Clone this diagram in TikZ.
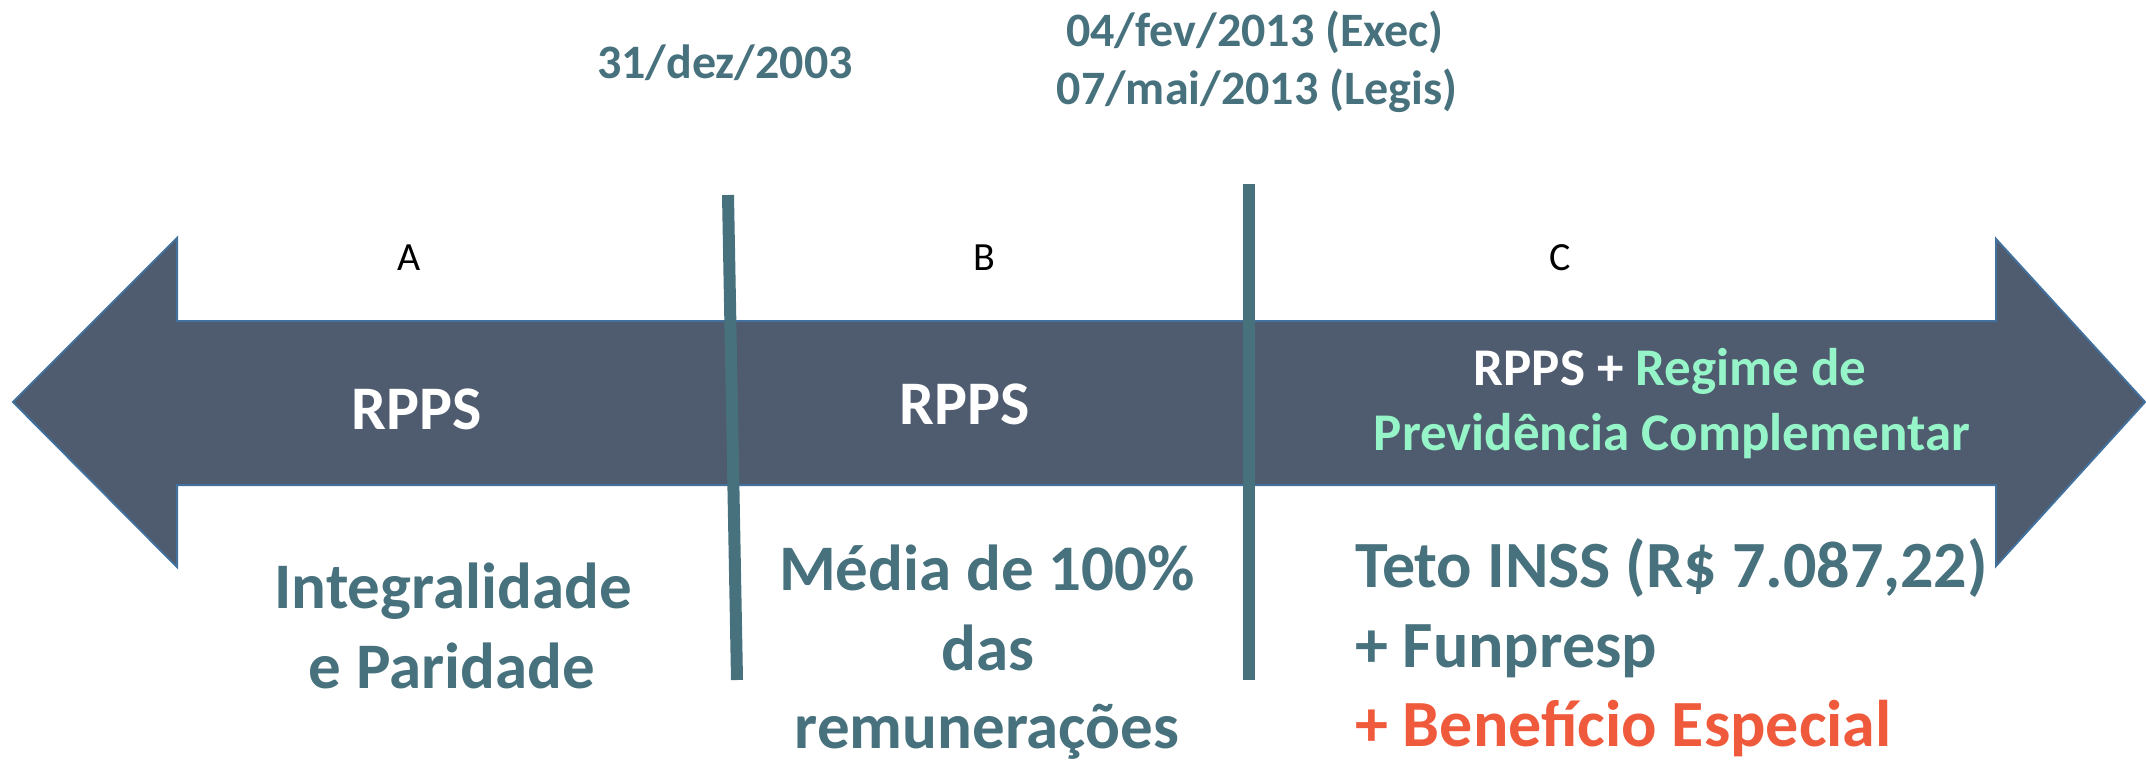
\documentclass[tikz,border=0pt]{standalone}
\usepackage{fontspec}
\setmainfont{Carlito}
\definecolor{teal1}{RGB}{70,113,125}
\definecolor{arrowfill}{RGB}{79,91,110}
\definecolor{arrowline}{RGB}{65,113,156}
\definecolor{mint}{RGB}{150,245,200}
\definecolor{redish}{RGB}{240,90,60}
\begin{document}
\begin{tikzpicture}[x=1pt,y=-1pt,
  txt/.style={inner sep=0pt,outer sep=0pt},
  datetxt/.style={txt,anchor=base,text=teal1,font=\fontsize{48}{58}\selectfont\bfseries},
  lettertxt/.style={txt,anchor=base,text=black,font=\fontsize{40}{48}\selectfont},
  rppstxt/.style={txt,anchor=base,text=white,font=\fontsize{62}{75}\selectfont\bfseries},
  comptxt/.style={txt,anchor=base,font=\fontsize{53}{65}\selectfont\bfseries},
  bigtxt/.style={txt,anchor=base,text=teal1,font=\fontsize{65}{80}\selectfont\bfseries},
  righttxt/.style={bigtxt,anchor=base west,font=\fontsize{66}{80}\selectfont\bfseries},
  divider/.style={draw=teal1,line width=12pt}]
\useasboundingbox (0,0) rectangle (2146,760);
% double arrow
\fill[arrowfill,draw=arrowline,line width=2pt,line join=miter]
  (13,402) -- (177,238) -- (177,321) -- (1996,321) -- (1996,239) -- (2145,402)
  -- (1996,566) -- (1996,485) -- (177,485) -- (177,567) -- cycle;
% dividers
\coordinate (v1t) at (728,195);
\coordinate (v1b) at (737,680);
\coordinate (v2t) at (1249,184);
\coordinate (v2b) at (1249,680);
\draw[divider] (v1t) -- (v1b);
\draw[divider] (v2t) -- (v2b);
% dates
\node[datetxt] (d1) at (725,78) {31/dez/2003};
\node[datetxt] (d2a) at (1255,47) {04/fev/2013 (Exec)};
\node[datetxt] (d2b) at (1257,104) {07/mai/2013 (Legis)};
% letters
\node[lettertxt] (la) at (409,270) {A};
\node[lettertxt] (lb) at (984,270) {B};
\node[lettertxt] (lc) at (1560,270) {C};
% inside arrow
\node[rppstxt] (r1) at (417,429) {RPPS};
\node[rppstxt] (r2) at (965,424) {RPPS};
\node[comptxt] (r3a) at (1670,385) {\textcolor{white}{RPPS +} \textcolor{mint}{Regime de}};
\node[comptxt,text=mint] (r3b) at (1672,450) {Previdência Complementar};
% bottom texts
\node[bigtxt] (a1) at (453,608) {Integralidade};
\node[bigtxt] (a2) at (452,688) {e Paridade};
\node[bigtxt] (b1) at (987,590) {Média de 100\%};
\node[bigtxt] (b2) at (988,670) {das};
\node[bigtxt] (b3) at (987,748) {remunerações};
\node[righttxt] (c1) at (1355,587) {Teto INSS (R\$ 7.087,22)};
\node[righttxt] (c2) at (1355,667) {+ Funpresp};
\node[righttxt,text=redish] (c3) at (1355,746) {+ Benefício Especial};
\end{tikzpicture}
\end{document}
